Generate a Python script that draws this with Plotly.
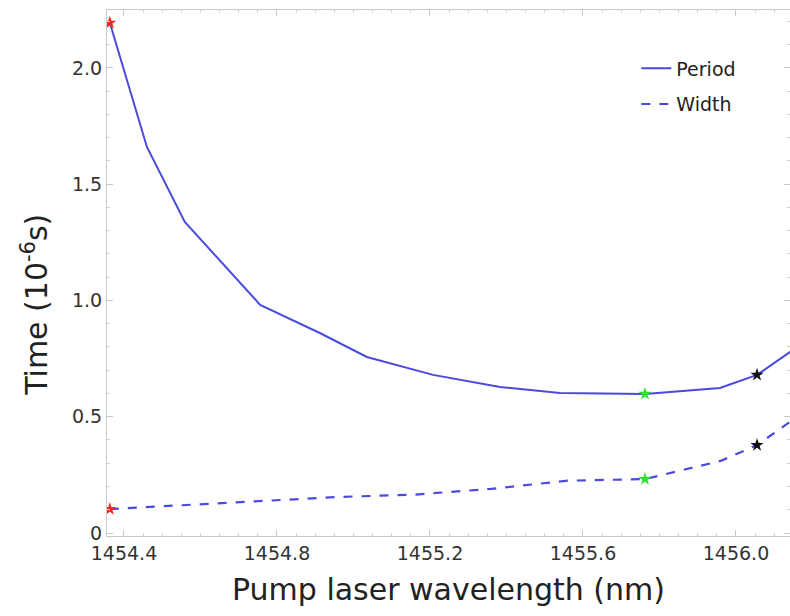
import plotly.graph_objects as go

# Data
wavelength_period = [1454.363, 1454.46, 1454.559, 1454.756, 1454.912, 1455.035, 1455.208,
                     1455.383, 1455.54, 1455.762, 1455.958, 1456.055, 1456.16]
period = [2.194, 1.66, 1.338, 0.981, 0.86, 0.757, 0.68, 0.628, 0.602, 0.598, 0.624, 0.68, 0.80]

wavelength_width = [1454.363, 1454.56, 1454.76, 1454.96, 1455.16, 1455.36, 1455.56,
                    1455.762, 1455.96, 1456.055, 1456.16]
width = [0.103, 0.12, 0.135, 0.155, 0.165, 0.19, 0.225, 0.232, 0.31, 0.378, 0.50]

# highlighted points (stars)
star_x = [1454.363, 1455.762, 1456.055]
star_period = [2.194, 0.598, 0.68]
star_width = [0.103, 0.232, 0.378]
star_colors = ["#ff2020", "#30e030", "#111111"]

x_ticks = [1454.4, 1454.8, 1455.2, 1455.6, 1456.0]
x_ticklabels = ["1454.4", "1454.8", "1455.2", "1455.6", "1456.0"]
y_ticks = [0, 0.5, 1.0, 1.5, 2.0]
y_ticklabels = ["0", "0.5", "1.0", "1.5", "2.0"]

line_color = "#4a4ade"
font_family = "DejaVu Sans"

fig = go.Figure()
fig.add_trace(go.Scatter(x=wavelength_period, y=period, mode="lines", name="Period",
                         legendgroup="p",
                         line=dict(color=line_color, width=2)))
fig.add_trace(go.Scatter(x=wavelength_width, y=width, mode="lines", name="Width",
                         legendgroup="w",
                         line=dict(color=line_color, width=2.2, dash="dash")))
fig.add_trace(go.Scatter(x=star_x, y=star_period, mode="markers", showlegend=False,
                         marker=dict(symbol="star", size=10, color=star_colors,
                                     line=dict(width=0))))
fig.add_trace(go.Scatter(x=star_x, y=star_width, mode="markers", showlegend=False,
                         marker=dict(symbol="star", size=10, color=star_colors,
                                     line=dict(width=0))))

fig.add_annotation(text="Time (10<sup>-6</sup>s)", textangle=-90,
                   xref="paper", yref="paper", x=-0.105, y=0.44,
                   xanchor="center", yanchor="middle", showarrow=False,
                   font=dict(size=30, color="#222", family=font_family))

fig.update_layout(
    width=790, height=616,
    margin=dict(l=107, r=0, t=10, b=80),
    paper_bgcolor="white", plot_bgcolor="white",
    font=dict(family=font_family, color="#333333"),
    legend=dict(x=0.775, y=0.925, xanchor="left", yanchor="top",
                bgcolor="rgba(0,0,0,0)", font=dict(size=19, color="#222"),
                tracegroupgap=8),
    xaxis=dict(
        range=[1454.3556, 1456.1412], tickvals=x_ticks, ticktext=x_ticklabels,
        showgrid=False, zeroline=False, showline=True, linecolor="#c8c8c8", linewidth=1,
        mirror="ticks", ticks="inside", ticklen=6, tickcolor="#c8c8c8",
        minor=dict(ticks="inside", ticklen=3, dtick=0.05, tickcolor="#d0d0d0"),
        tickfont=dict(size=19, color="#333"),
        title=dict(text="Pump laser wavelength (nm)", font=dict(size=30, color="#222"),
                   standoff=16),
    ),
    yaxis=dict(
        range=[-0.0129, 2.249], tickvals=y_ticks, ticktext=y_ticklabels,
        showgrid=False, zeroline=False, showline=True, linecolor="#c8c8c8", linewidth=1,
        mirror="ticks", ticks="inside", ticklen=6, tickcolor="#c8c8c8",
        minor=dict(ticks="inside", ticklen=3, dtick=0.1, tickcolor="#d0d0d0"),
        tickfont=dict(size=19, color="#333"),
    ),
)

fig.write_html("out.html")
